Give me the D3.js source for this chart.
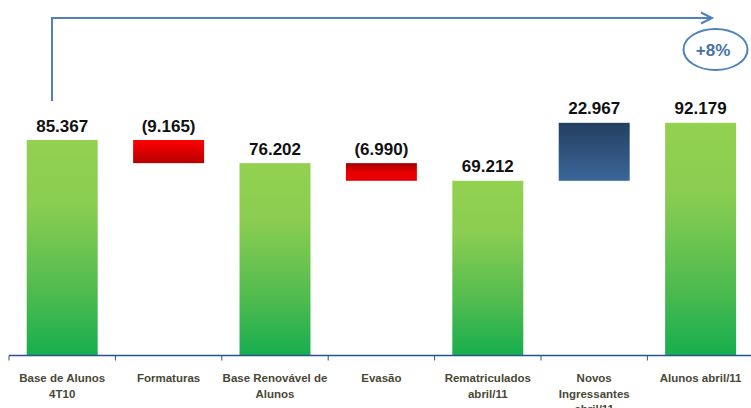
<!DOCTYPE html>
<html>
<head>
<meta charset="utf-8">
<script src="https://cdn.jsdelivr.net/npm/d3@7"></script>
<style>
  html, body { margin: 0; padding: 0; background: #fff; }
  svg { display: block; }
</style>
</head>
<body>
<div id="container"></div>
<script>
// chart data
const categories = [
  ["Base de Alunos", "4T10"],
  ["Formaturas"],
  ["Base Renovável de", "Alunos"],
  ["Evasão"],
  ["Rematriculados", "abril/11"],
  ["Novos", "Ingressantes", "abril/11"],
  ["Alunos abril/11"]
];
const values = [85367, -9165, 76202, -6990, 69212, 22967, 92179];
const kinds = ["total", "down", "total", "down", "total", "up", "total"];
const valueLabels = ["85.367", "(9.165)", "76.202", "(6.990)", "69.212", "22.967", "92.179"];
const growthLabel = "+8%";

const width = 751, height = 408;

const svg = d3.select("#container").append("svg")
  .attr("width", width)
  .attr("height", height);

const defs = svg.append("defs");
function grad(id, stops) {
  const g = defs.append("linearGradient").attr("id", id)
    .attr("x1", 0).attr("y1", 0).attr("x2", 0).attr("y2", 1);
  stops.forEach(s => g.append("stop").attr("offset", s[0]).attr("stop-color", s[1]));
}
grad("gGreen", [[0, "#93d150"], [0.3, "#8acd51"], [0.7, "#50bb4f"], [1, "#17ae4f"]]);
grad("gRedDown", [[0, "#ff0000"], [1, "#b80000"]]);
grad("gRedUp", [[0, "#a00000"], [0.5, "#e80000"], [1, "#e80000"]]);
grad("gBlue", [[0, "#243f60"], [1, "#3b679a"]]);

// running totals for the floating bars
const bars = [];
let running = 0;
values.forEach((v, i) => {
  let lo, hi;
  if (kinds[i] === "total") { lo = 0; hi = v; running = v; }
  else { const next = running + v; lo = Math.min(running, next); hi = Math.max(running, next); running = next; }
  bars.push({ i, lo, hi, kind: kinds[i], label: valueLabels[i] });
});

const x = d3.scaleBand()
  .domain(d3.range(categories.length))
  .range([9, 9 + 106.4 * categories.length])
  .paddingInner(0.333)
  .paddingOuter(0.1665);

const y = d3.scaleLinear()
  .domain([0, 140000])
  .range([355.5, 2.1]);

const fills = { total: "url(#gGreen)", up: "url(#gBlue)" };

svg.append("g").selectAll("rect")
  .data(bars)
  .join("rect")
  .attr("x", d => x(d.i))
  .attr("width", x.bandwidth())
  .attr("y", d => y(d.hi))
  .attr("height", d => y(d.lo) - y(d.hi))
  .attr("fill", d => d.kind === "down" ? (d.i === 1 ? "url(#gRedDown)" : "url(#gRedUp)") : fills[d.kind]);

// value labels
svg.append("g").selectAll("text")
  .data(bars)
  .join("text")
  .attr("x", d => x(d.i) + x.bandwidth() / 2)
  .attr("y", d => y(d.hi) - 8.5)
  .attr("text-anchor", "middle")
  .style("font-family", "'Liberation Sans', Arial, sans-serif")
  .style("font-weight", "bold")
  .style("font-size", "17px")
  .style("fill", "#111")
  .text(d => d.label);

// category axis
const axisColor = "#24558a";
svg.append("line")
  .attr("x1", 9).attr("x2", width)
  .attr("y1", 355.5).attr("y2", 355.5)
  .attr("stroke", axisColor).attr("stroke-width", 1.5);

svg.append("g").selectAll("line")
  .data(d3.range(categories.length))
  .join("line")
  .attr("x1", d => x(d) - x.step() * x.paddingOuter()).attr("x2", d => x(d) - x.step() * x.paddingOuter())
  .attr("y1", 355.5).attr("y2", 360.5)
  .attr("stroke", axisColor).attr("stroke-width", 1);

const labels = svg.append("g").selectAll("text")
  .data(categories)
  .join("text")
  .attr("text-anchor", "middle")
  .style("font-family", "'Liberation Sans', Arial, sans-serif")
  .style("font-weight", "bold")
  .style("font-size", "11.5px")
  .style("fill", "#4a4736");
labels.each(function (lines, i) {
  const t = d3.select(this);
  lines.forEach((ln, k) => {
    t.append("tspan")
      .attr("x", x(i) + x.bandwidth() / 2)
      .attr("y", 382 + k * 15.5)
      .text(ln);
  });
});

// growth arrow annotation
const blue = "#4f81bd";
svg.append("path")
  .attr("d", "M52,101 V18 H711")
  .attr("fill", "none").attr("stroke", blue).attr("stroke-width", 2);
svg.append("path")
  .attr("d", "M701,12.5 L712,18 L701,23.5")
  .attr("fill", "none").attr("stroke", blue).attr("stroke-width", 2);
svg.append("ellipse")
  .attr("cx", 715.5).attr("cy", 49.5).attr("rx", 32).attr("ry", 20.5)
  .attr("fill", "none").attr("stroke", blue).attr("stroke-width", 2);
svg.append("text")
  .attr("x", 713).attr("y", 55.5)
  .attr("text-anchor", "middle")
  .style("font-family", "'Liberation Sans', Arial, sans-serif")
  .style("font-weight", "bold")
  .style("font-size", "17px")
  .style("fill", "#4472aa")
  .text(growthLabel);
</script>
</body>
</html>
